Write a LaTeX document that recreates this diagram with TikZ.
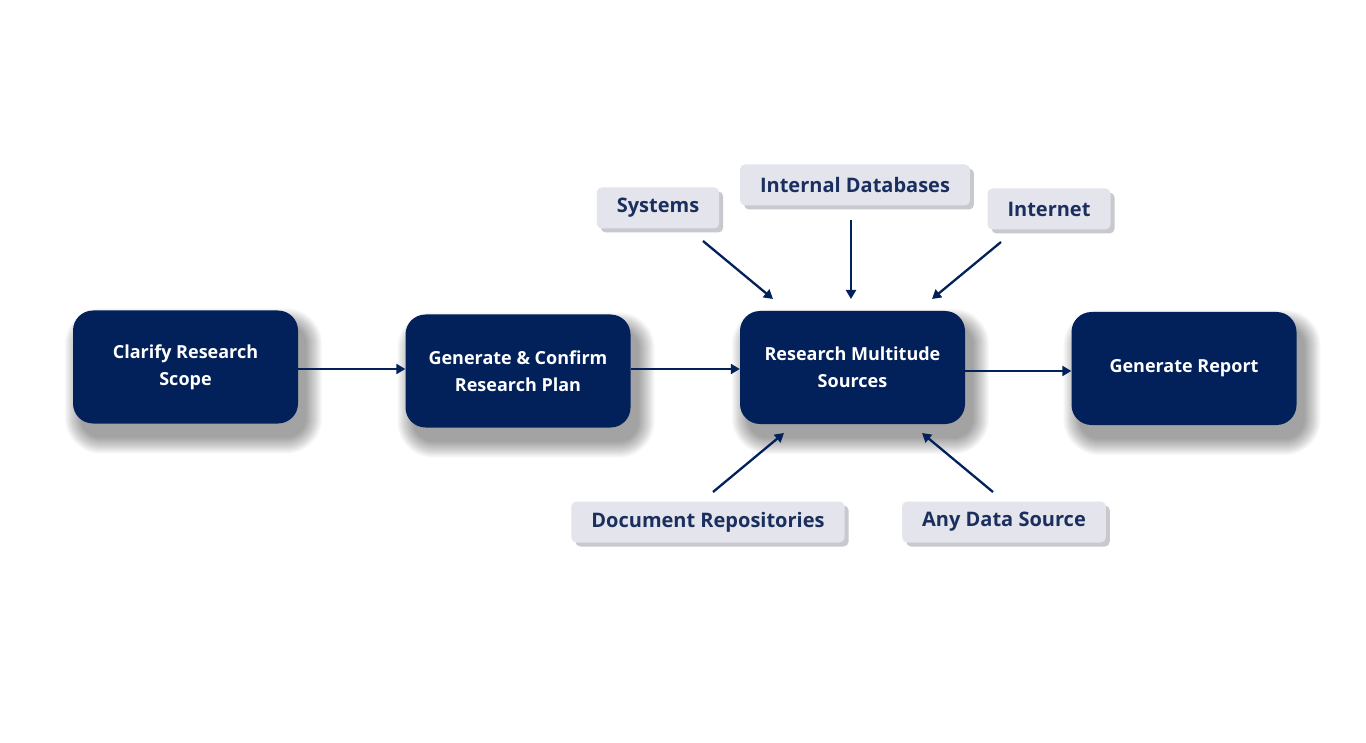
\documentclass[tikz,border=0pt]{standalone}
\usepackage{fontspec}
\setmainfont{Open Sans}
\usetikzlibrary{shadows,arrows.meta,backgrounds,calc}
\definecolor{navy}{HTML}{02215A}
\definecolor{chipfill}{HTML}{E3E4EC}
\definecolor{chipshadow}{HTML}{C8C9CE}
\definecolor{chiptext}{HTML}{1B2F5E}
\tikzset{
  bigbox/.style={fill=navy, draw=none, rounded corners=20pt, minimum width=225pt, minimum height=113pt,
    text=white, font=\fontsize{18}{27}\selectfont\bfseries, align=center},
  chip/.style={fill=chipfill, draw=none, rounded corners=5pt, minimum height=41pt, inner xsep=20pt,
    text=chiptext, font=\fontsize{20}{22}\selectfont\bfseries,
    drop shadow={shadow xshift=4pt, shadow yshift=-4pt, fill=chipshadow, opacity=1}},
  flow/.style={draw=navy, line width=2.3pt, -{Triangle[length=9pt,width=10pt]}},
  softshadow/.style={fill=black, fill opacity=0.022, draw=none},
}
\newcommand{\boxshadow}[1]{%
  \foreach \i in {0,...,16}{%
    \fill[softshadow, rounded corners={20pt+\i pt}]
      ($(#1.north west)+(8-\i,14-\i)$) rectangle ($(#1.south east)+(8+\i,14+\i)$);
  }%
}
\begin{document}
\begin{tikzpicture}[x=1pt,y=-1pt]
\useasboundingbox (0,0) rectangle (1366,743);
\node[bigbox] (clarify) at (185.5,367) {Clarify Research\\Scope};
\node[bigbox] (plan) at (518,371) {Generate \& Confirm\\Research Plan};
\node[bigbox] (rms) at (852.5,367.5) {Research Multitude\\Sources};
\node[bigbox] (report) at (1184,368.5) {Generate Report};

\begin{scope}[on background layer]
  \fill[white] (0,0) rectangle (1366,743);
  \boxshadow{clarify}
  \boxshadow{plan}
  \boxshadow{rms}
  \boxshadow{report}
\end{scope}

\node[chip] (systems) at (658,208) {Systems};
\node[chip] (intdb) at (855,185) {Internal Databases};
\node[chip] (internet) at (1049,209) {Internet};
\node[chip] (docrep) at (708,522) {Document Repositories};
\node[chip] (anydata) at (1004,522) {Any Data Source};

\draw[flow] (clarify.east |- 0,369) -- (plan.west |- 0,369);
\draw[flow] (plan.east |- 0,369) -- (rms.west |- 0,369);
\draw[flow] (rms.east |- 0,371) -- (report.west |- 0,371);

\coordinate (s1) at (703,241);
\coordinate (s2) at (851,220);
\coordinate (s3) at (1001,242);
\coordinate (s4) at (713,492);
\coordinate (s5) at (993,492);
\coordinate (e1) at (773,299);
\coordinate (e2) at (851,299);
\coordinate (e3) at (932,299);
\coordinate (e4) at (784,433);
\coordinate (e5) at (922,433);
\draw[flow] (s1) -- (e1);
\draw[flow] (s2) -- (e2);
\draw[flow] (s3) -- (e3);
\draw[flow] (s4) -- (e4);
\draw[flow] (s5) -- (e5);
\end{tikzpicture}
\end{document}
